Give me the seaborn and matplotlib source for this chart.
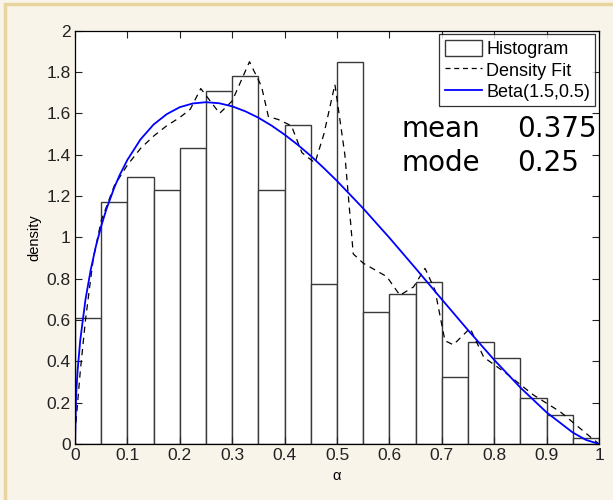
import matplotlib
matplotlib.use("Agg")
import matplotlib.pyplot as plt
import seaborn as sns
import numpy as np
import pandas as pd
from matplotlib.patches import Rectangle
from matplotlib.lines import Line2D

# bin edges / bar heights (density)
bin_edges = [0.0, 0.05, 0.1, 0.15, 0.2, 0.25, 0.3, 0.35, 0.4, 0.45, 0.5,
             0.55, 0.6, 0.65, 0.7, 0.75, 0.8, 0.85, 0.9, 0.95, 1.0]
bar_heights = [0.61, 1.17, 1.29, 1.23, 1.43, 1.71, 1.78, 1.23, 1.545, 0.775,
               1.85, 0.64, 0.725, 0.785, 0.325, 0.495, 0.415, 0.225, 0.14, 0.03]

# dashed density fit
fit_x = [0.0, 0.005, 0.01, 0.02, 0.035, 0.05, 0.075, 0.1, 0.125, 0.15, 0.175,
         0.2, 0.22, 0.24, 0.258, 0.276, 0.3, 0.333, 0.356, 0.369, 0.388, 0.413,
         0.433, 0.458, 0.475, 0.496, 0.515, 0.531, 0.55, 0.595, 0.62, 0.646,
         0.668, 0.687, 0.706, 0.722, 0.754, 0.78, 0.824, 0.875, 0.926, 0.976, 1.0]
fit_y = [0.05, 0.2, 0.35, 0.6, 0.9, 1.08, 1.25, 1.35, 1.43, 1.49, 1.54,
         1.58, 1.62, 1.72, 1.66, 1.6, 1.66, 1.85, 1.73, 1.585, 1.57, 1.54,
         1.41, 1.36, 1.5, 1.74, 1.4, 0.92, 0.875, 0.81, 0.72, 0.76,
         0.85, 0.745, 0.5, 0.48, 0.56, 0.42, 0.34, 0.237, 0.156, 0.05, 0.0]

# blue Beta curve
beta_x = [0.0, 0.002, 0.005, 0.01, 0.02, 0.03, 0.04, 0.05, 0.06, 0.075, 0.085,
          0.1, 0.125, 0.15, 0.175, 0.2, 0.225, 0.25, 0.275, 0.3, 0.325, 0.35,
          0.375, 0.4, 0.425, 0.45, 0.475, 0.5, 0.55, 0.6, 0.65, 0.7, 0.75,
          0.8, 0.85, 0.9, 0.95, 0.975, 1.0]
beta_y = [0.0, 0.23, 0.357, 0.502, 0.699, 0.843, 0.958, 1.054, 1.137, 1.241, 1.30,
          1.375, 1.474, 1.546, 1.596, 1.63, 1.648, 1.654, 1.649, 1.634, 1.61, 1.579,
          1.541, 1.497, 1.448, 1.394, 1.335, 1.273, 1.14, 0.998, 0.85, 0.70, 0.551,
          0.407, 0.273, 0.153, 0.0555, 0.02, 0.0]

bin_centers = [(a + b) / 2 for a, b in zip(bin_edges[:-1], bin_edges[1:])]

bg = '#f8f4e9'
plt.rcParams['font.family'] = ['Liberation Sans', 'DejaVu Sans']

fig = plt.figure(figsize=(6.13, 5.0), dpi=100, facecolor=bg)
# tan frame on left and top
fig.patches.append(Rectangle((4.5 / 613, -0.1), 1.2, 1.1 - 4.5 / 500, transform=fig.transFigure,
                             facecolor='none', edgecolor='#e8d49e', linewidth=2.5))
ax = fig.add_axes([75 / 613, 1 - 444 / 500, (599 - 75) / 613, (444 - 30.7) / 500])
ax.set_facecolor('white')

sns.histplot(x=bin_centers, weights=bar_heights, bins=bin_edges, stat='count',
             color='white', edgecolor='#3a3a3a', linewidth=1.0, alpha=1, ax=ax)

df_fit = pd.DataFrame({'x': fit_x, 'y': fit_y})
df_beta = pd.DataFrame({'x': beta_x, 'y': beta_y})
sns.lineplot(data=df_fit, x='x', y='y', color='black', linestyle=(0, (5, 4)),
             linewidth=0.9, ax=ax, sort=False)
sns.lineplot(data=df_beta, x='x', y='y', color='#0000ff', linewidth=1.3, ax=ax, sort=False)

ax.set_xlim(0, 1)
ax.set_ylim(0, 2)
ax.set_xticks(np.arange(0, 1.01, 0.1))
ax.set_xticklabels(['0', '0.1', '0.2', '0.3', '0.4', '0.5', '0.6', '0.7', '0.8', '0.9', '1'])
ax.set_yticks(np.arange(0, 2.01, 0.2))
ax.set_yticklabels(['0', '0.2', '0.4', '0.6', '0.8', '1', '1.2', '1.4', '1.6', '1.8', '2'])
ax.tick_params(direction='in', length=5, width=0.8, top=True, right=True,
               labelsize=12.5, pad=3, colors='#222222')
for s in ax.spines.values():
    s.set_color('black')
    s.set_linewidth(0.9)

ax.set_xlabel('α', fontsize=10.5, labelpad=4)
ax.set_ylabel('density', fontsize=10.5, labelpad=4)

handles = [Rectangle((0, 0), 1, 1, facecolor='white', edgecolor='#3a3a3a', linewidth=1),
           Line2D([], [], color='black', linestyle=(0, (4, 3)), linewidth=0.9),
           Line2D([], [], color='#0000ff', linewidth=1.3)]
leg = ax.legend(handles, ['Histogram', 'Density Fit', 'Beta(1.5,0.5)'],
                loc='upper right', fontsize=13, frameon=True, fancybox=False,
                borderpad=0.3, labelspacing=0.18, handlelength=2.1, handleheight=1.0,
                handletextpad=0.2, borderaxespad=0.2)
leg.get_frame().set_edgecolor('black')
leg.get_frame().set_linewidth(0.9)

ax.text(0.6235, 1.487, 'mean', fontsize=20, family='DejaVu Sans', ha='left', va='baseline')
ax.text(0.843, 1.487, '0.375', fontsize=20, family='DejaVu Sans', ha='left', va='baseline')
ax.text(0.6235, 1.321, 'mode', fontsize=20, family='DejaVu Sans', ha='left', va='baseline')
ax.text(0.843, 1.321, '0.25', fontsize=20, family='DejaVu Sans', ha='left', va='baseline')

fig.savefig('out.png', dpi=100, facecolor=bg)
